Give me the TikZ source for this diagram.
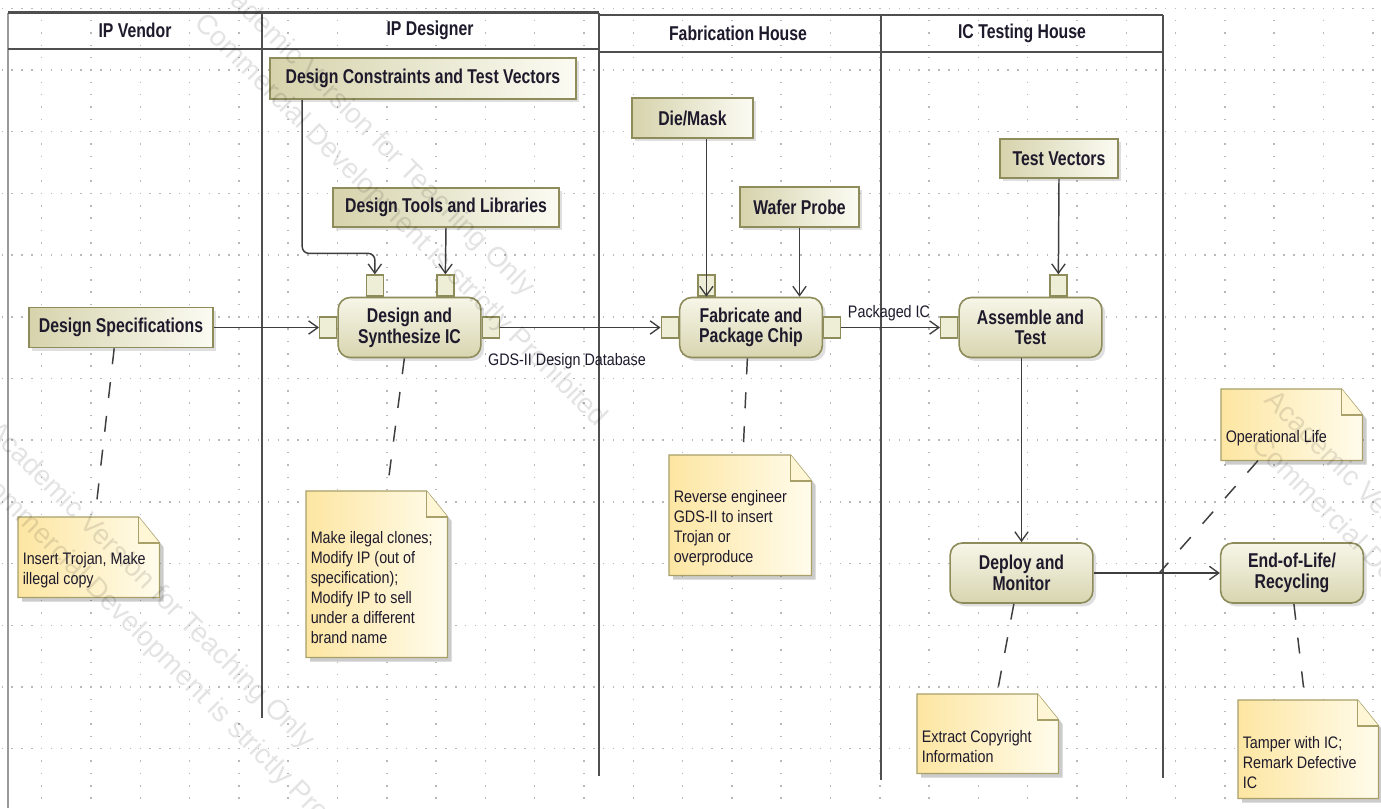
\documentclass[tikz,border=0pt]{standalone}
\usepackage{fontspec}
\setmainfont{Liberation Sans}
\newfontfamily\umlfont[FakeStretch=0.79]{Liberation Sans}
\newfontfamily\notefont[FakeStretch=0.86]{Liberation Sans}
\usetikzlibrary{calc,arrows.meta,shadows}

\definecolor{lanecol}{HTML}{4F4F4F}
\definecolor{laneedge}{HTML}{9A9A9A}
\definecolor{gridcol}{HTML}{B8B8B8}
\definecolor{umlolive}{HTML}{8E8C5A}
\definecolor{acttop}{HTML}{F7F6E8}
\definecolor{actbot}{HTML}{D8D5B0}
\definecolor{pinfill}{HTML}{EEEDD6}
\definecolor{objleft}{HTML}{D6D3AC}
\definecolor{objright}{HTML}{FBFBF3}
\definecolor{noteleft}{HTML}{FDE6A2}
\definecolor{noteright}{HTML}{FFFCEC}
\definecolor{notebd}{HTML}{A8A068}
\definecolor{notefold}{HTML}{FFF6D6}
\definecolor{flowcol}{HTML}{3E3E3E}
\definecolor{textcol}{HTML}{1E1A2C}

% folded-corner body of a comment note, drawn around an empty sizing node
\newcommand{\notebody}[1]{%
  \fill[black, opacity=0.2]
    ($(#1.north west)+(4,4)$) -- ($(#1.north east)+(-17,4)$) --
    ($(#1.north east)+(4,30)$) -- ($(#1.south east)+(4,4)$) --
    ($(#1.south west)+(4,4)$) -- cycle;
  \draw[notebd, line width=1pt, left color=noteleft, right color=noteright]
    (#1.north west) -- ($(#1.north east)+(-21,0)$) --
    ($(#1.north east)+(0,26)$) -- (#1.south east) -- (#1.south west) -- cycle;
  \draw[notebd, line width=1pt, fill=notefold]
    ($(#1.north east)+(-21,0)$) -- ($(#1.north east)+(-21,26)$) --
    ($(#1.north east)+(0,26)$);
}

\begin{document}
\begin{tikzpicture}[x=0.75pt, y=-0.75pt,
  gridrow/.style={draw=gridcol, line width=1.1pt, dash pattern=on 1.1pt off 6.295pt},
  gridcolumn/.style={draw=gridcol, line width=1.1pt, dash pattern=on 1.1pt off 8.155pt},
  lane/.style={draw=lanecol, line width=2pt},
  laneouter/.style={draw=laneedge, line width=1.5pt},
  lanetitle/.style={font=\umlfont\bfseries\fontsize{15}{16}\selectfont, text=textcol, inner sep=0pt},
  action/.style={rectangle, rounded corners=9pt, draw=umlolive, line width=1.2pt,
    top color=acttop, bottom color=actbot, minimum width=107pt, minimum height=45pt,
    align=center, inner sep=0pt, text=textcol,
    font=\umlfont\bfseries\fontsize{15}{15.5}\selectfont,
    drop shadow={shadow xshift=2.5pt, shadow yshift=-2.5pt, opacity=0.25}},
  pin/.style={rectangle, draw=umlolive, line width=1pt, fill=pinfill,
    minimum width=12.75pt, minimum height=15.75pt, inner sep=0pt},
  object/.style={rectangle, draw=umlolive, line width=1.2pt,
    left color=objleft, right color=objright, inner sep=0pt, text=textcol,
    font=\umlfont\bfseries\fontsize{15}{15.5}\selectfont,
    drop shadow={shadow xshift=2.5pt, shadow yshift=-2.5pt, opacity=0.25}},
  notebox/.style={rectangle, draw=none, inner sep=0pt, anchor=north west},
  notetext/.style={inner sep=0pt, anchor=west, align=left, text=textcol,
    font=\notefont\fontsize{12.5}{15}\selectfont},
  flowlabel/.style={inner sep=0pt, text=textcol,
    font=\notefont\fontsize{12.5}{15}\selectfont},
  flow/.style={draw=flowcol, line width=1.1pt, -{Straight Barb[length=7pt,width=10pt,line width=1pt]}},
  anchorline/.style={draw=flowcol, line width=1.1pt, dash pattern=on 12pt off 13.5pt},
  watermark/.style={rotate=-45, anchor=base west, inner sep=0pt, text=black,
    text opacity=0.11, font=\fontsize{21}{21}\selectfont}
]
\useasboundingbox (0,0) rectangle (1381,808);
\fill[white] (0,0) rectangle (1381,808);

% dotted drawing grid
\foreach \k in {0,...,13}
  \draw[gridrow] (1.5,{8.3+61.7*\k}) -- (1381,{8.3+61.7*\k});
\foreach \k in {0,...,27}
  \draw[gridcolumn] ({41.7+49.3*\k},7.6) -- ({41.7+49.3*\k},808);

% swimlanes: IP Vendor | IP Designer
\draw[laneouter] (8,12.5) -- (8,808);
\draw[lane] (8,12.5) -- (599,12.5);
\draw[lane] (8,49) -- (599,49);
\draw[lane] (262,12.5) -- (262,718);
\draw[lane] (599,12.5) -- (599,776);
% swimlanes: Fabrication House | IC Testing House
\draw[lane] (599,15) -- (1163,15);
\draw[lane] (599,52) -- (1163,52);
\draw[lane] (881,15) -- (881,780);
\draw[lane] (1163,15) -- (1163,778);

\node[lanetitle] (h1) at (135,30.5) {IP Vendor};
\node[lanetitle] (h2) at (430,30.5) {IP Designer};
\node[lanetitle] (h3) at (738,33) {Fabrication House};
\node[lanetitle] (h4) at (1022,33) {IC Testing House};

% object nodes
\node[object, minimum width=229.5pt, minimum height=30.75pt] (O1) at (423,78.5) {Design Constraints and Test Vectors};
\node[object, minimum width=169.5pt, minimum height=29.25pt] (O2) at (446,207.5) {Design Tools and Libraries};
\node[object, minimum width=138pt, minimum height=30pt] (O3) at (121,327.5) {Design Specifications};
\node[object, minimum width=90.75pt, minimum height=30pt] (O4) at (692.5,118) {Die/Mask};
\node[object, minimum width=89.25pt, minimum height=30pt] (O5) at (799.5,207) {Wafer Probe};
\node[object, minimum width=88.5pt, minimum height=29.25pt] (O6) at (1059,158.5) {Test Vectors};

% actions with their pins
\node[action] (A1) at (409.5,327.5) {Design and\\Synthesize IC};
\node[action] (A2) at (751,327.5) {Fabricate and\\Package Chip};
\node[action] (A3) at (1030.5,327.5) {Assemble and\\Test};
\node[action] (A4) at (1021.5,573) {Deploy and\\Monitor};
\node[action] (A5) at (1292,573) {End-of-Life/\\Recycling};

\node[pin, anchor=east] (a1in) at (A1.west) {};
\node[pin, anchor=west] (a1out) at (A1.east) {};
\node[pin, anchor=south] (a1t1) at ($(A1.north west)+(37.5,0)$) {};
\node[pin, anchor=south] (a1t2) at ($(A1.north west)+(108,0)$) {};
\node[pin, anchor=east] (a2in) at (A2.west) {};
\node[pin, anchor=west] (a2out) at (A2.east) {};
\node[pin, anchor=south] (a2t) at ($(A2.north west)+(27.5,0)$) {};
\node[pin, anchor=east] (a3in) at (A3.west) {};
\node[pin, anchor=south] (a3t) at ($(A3.north west)+(100,0)$) {};

% comment notes
\node[notebox, minimum width=105.75pt, minimum height=60pt] (N1) at (18,517) {};
\notebody{N1}
\node[notetext] (N1t) at ($(N1.west)+(4.5,13)$) {Insert Trojan, Make\\illegal copy};

\node[notebox, minimum width=105.75pt, minimum height=124.5pt] (N2) at (306,491) {};
\notebody{N2}
\node[notetext] (N2t) at ($(N2.west)+(4.5,13)$) {Make ilegal clones;\\Modify IP (out of\\specification);\\Modify IP to sell\\under a different\\brand name};

\node[notebox, minimum width=106.5pt, minimum height=90pt] (N3) at (669,455) {};
\notebody{N3}
\node[notetext] (N3t) at ($(N3.west)+(4.5,13)$) {Reverse engineer\\GDS-II to insert\\Trojan or\\overproduce};

\node[notebox, minimum width=105.75pt, minimum height=59.25pt] (N4) at (917,694) {};
\notebody{N4}
\node[notetext] (N4t) at ($(N4.west)+(4.5,13)$) {Extract Copyright\\Information};

\node[notebox, minimum width=105pt, minimum height=73.5pt] (N5) at (1238,700) {};
\notebody{N5}
\node[notetext] (N5t) at ($(N5.west)+(4.5,13)$) {Tamper with IC;\\Remark Defective\\IC};

\node[notebox, minimum width=105.75pt, minimum height=53.25pt] (N6) at (1221,389) {};
\notebody{N6}
\node[notetext] (N6t) at ($(N6.west)+(4.5,13)$) {Operational Life};

% control and object flows
\draw[flow] (O3.east) -- (a1in.west);
\draw[flow, rounded corners=5pt] ($(O1.south west)+(33,0)$) |- ($(a1t1.north)+(0,-21)$) -- (a1t1.north);
\draw[flow] (O2.south) -- (a1t2.north);
\draw[flow] (a1out.east) -- (a2in.west);
\draw[flow] (O4.south -| a2t.north) -- (A2.north -| a2t.north);
\draw[flow] (O5.south) -- (A2.north -| O5.south);
\draw[flow] (a2out.east) -- (a3in.west);
\draw[flow] (O6.south) -- (a3t.north);
\draw[flow] (A3.south -| A4.north) -- (A4.north);
\draw[flow] (A4.east) -- (A5.west);
\coordinate (opl) at ($(A4.east)!0.52!(A5.west)$);

\node[flowlabel] (gds) at (567,361) {GDS-II Design Database};
\node[flowlabel] (pkg) at (889,313) {Packaged IC};

% note attachments
\draw[anchorline] ($(O3.south west)+(86,0)$) -- ($(N1.north west)+(77,0)$);
\draw[anchorline] ($(A1.south west)+(67,0)$) -- ($(N2.north west)+(81,0)$);
\draw[anchorline] ($(A2.south west)+(68.5,0)$) -- ($(N3.north west)+(74,0)$);
\draw[anchorline] ($(A4.south west)+(64.5,0)$) -- ($(N4.north west)+(80,0)$);
\draw[anchorline] ($(A5.south west)+(74,0)$) -- ($(N5.north west)+(67,0)$);
\draw[anchorline] ($(N6.south west)+(37,0)$) -- (opl);

% licence watermark, repeated diagonally
\node[watermark] (wm1a) at (206,-21) {Academic Version for Teaching Only};
\node[watermark] (wm1b) at (193,24) {Commercial Development is strictly Prohibited};
\node[watermark] (wm2a) at (-14,432) {Academic Version for Teaching Only};
\node[watermark] (wm2b) at (-27,477) {Commercial Development is strictly Prohibited};
\node[watermark] (wm3a) at (1263,401) {Academic Version for Teaching Only};
\node[watermark] (wm3b) at (1250,446) {Commercial Development is strictly Prohibited};
\end{tikzpicture}
\end{document}
